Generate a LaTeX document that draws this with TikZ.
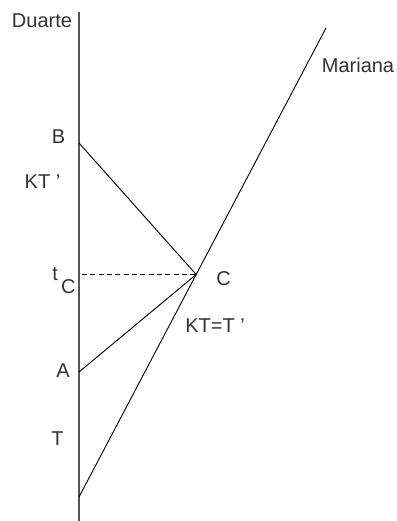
\documentclass[tikz,border=0pt]{standalone}
\usepackage{fontspec}
\setmainfont{Liberation Sans}
\usetikzlibrary{calc}
\definecolor{txtgray}{HTML}{333333}
\definecolor{axisgray}{HTML}{555555}

\begin{document}
\begin{tikzpicture}[x=0.6pt, y=-0.6pt, line join=round,
    lbl/.style={anchor=base, text=txtgray, inner sep=0pt, font=\fontsize{12}{14}\selectfont},
    world/.style={line width=0.55pt, black}]
    \useasboundingbox (0,0) rectangle (397,521);
    \coordinate (Dtop) at (79,12);
    \coordinate (Dbot) at (79,521);
    \coordinate (B) at (79,143);
    \coordinate (A) at (79,372);
    \coordinate (O) at (79,497);
    \coordinate (M) at (326,28);
    \coordinate (C) at ($(O)!0.4744!(M)$);
    \coordinate (tC) at (82,0 |- C);
    % Duarte's world line
    \draw[axisgray, line width=0.9pt] (Dtop) -- (Dbot);
    % Mariana and the light signals
    \draw[world] (O) -- (M);
    \draw[world] (A) -- (C) -- (B);
    \draw[world, dashed, dash pattern=on 3pt off 2pt] (tC) -- (C);
    \node[lbl] (duarte) at (42,27) {Duarte};
    \node[lbl] (mariana) at (358,72) {Mariana};
    \node[lbl] (lB) at (58.5,143) {B};
    \node[lbl] (lKT) at (42.5,188) {KT '};
    \node[lbl, anchor=base west] (ltC) at (52,280) {t\,\raisebox{-7.8pt}{C}};
    \node[lbl] (lC) at (223.5,285) {C};
    \node[lbl] (lKTT) at (215,332) {KT=T '};
    \node[lbl] (lA) at (63,377) {A};
    \node[lbl] (lT) at (57.5,445) {T};
\end{tikzpicture}
\end{document}
